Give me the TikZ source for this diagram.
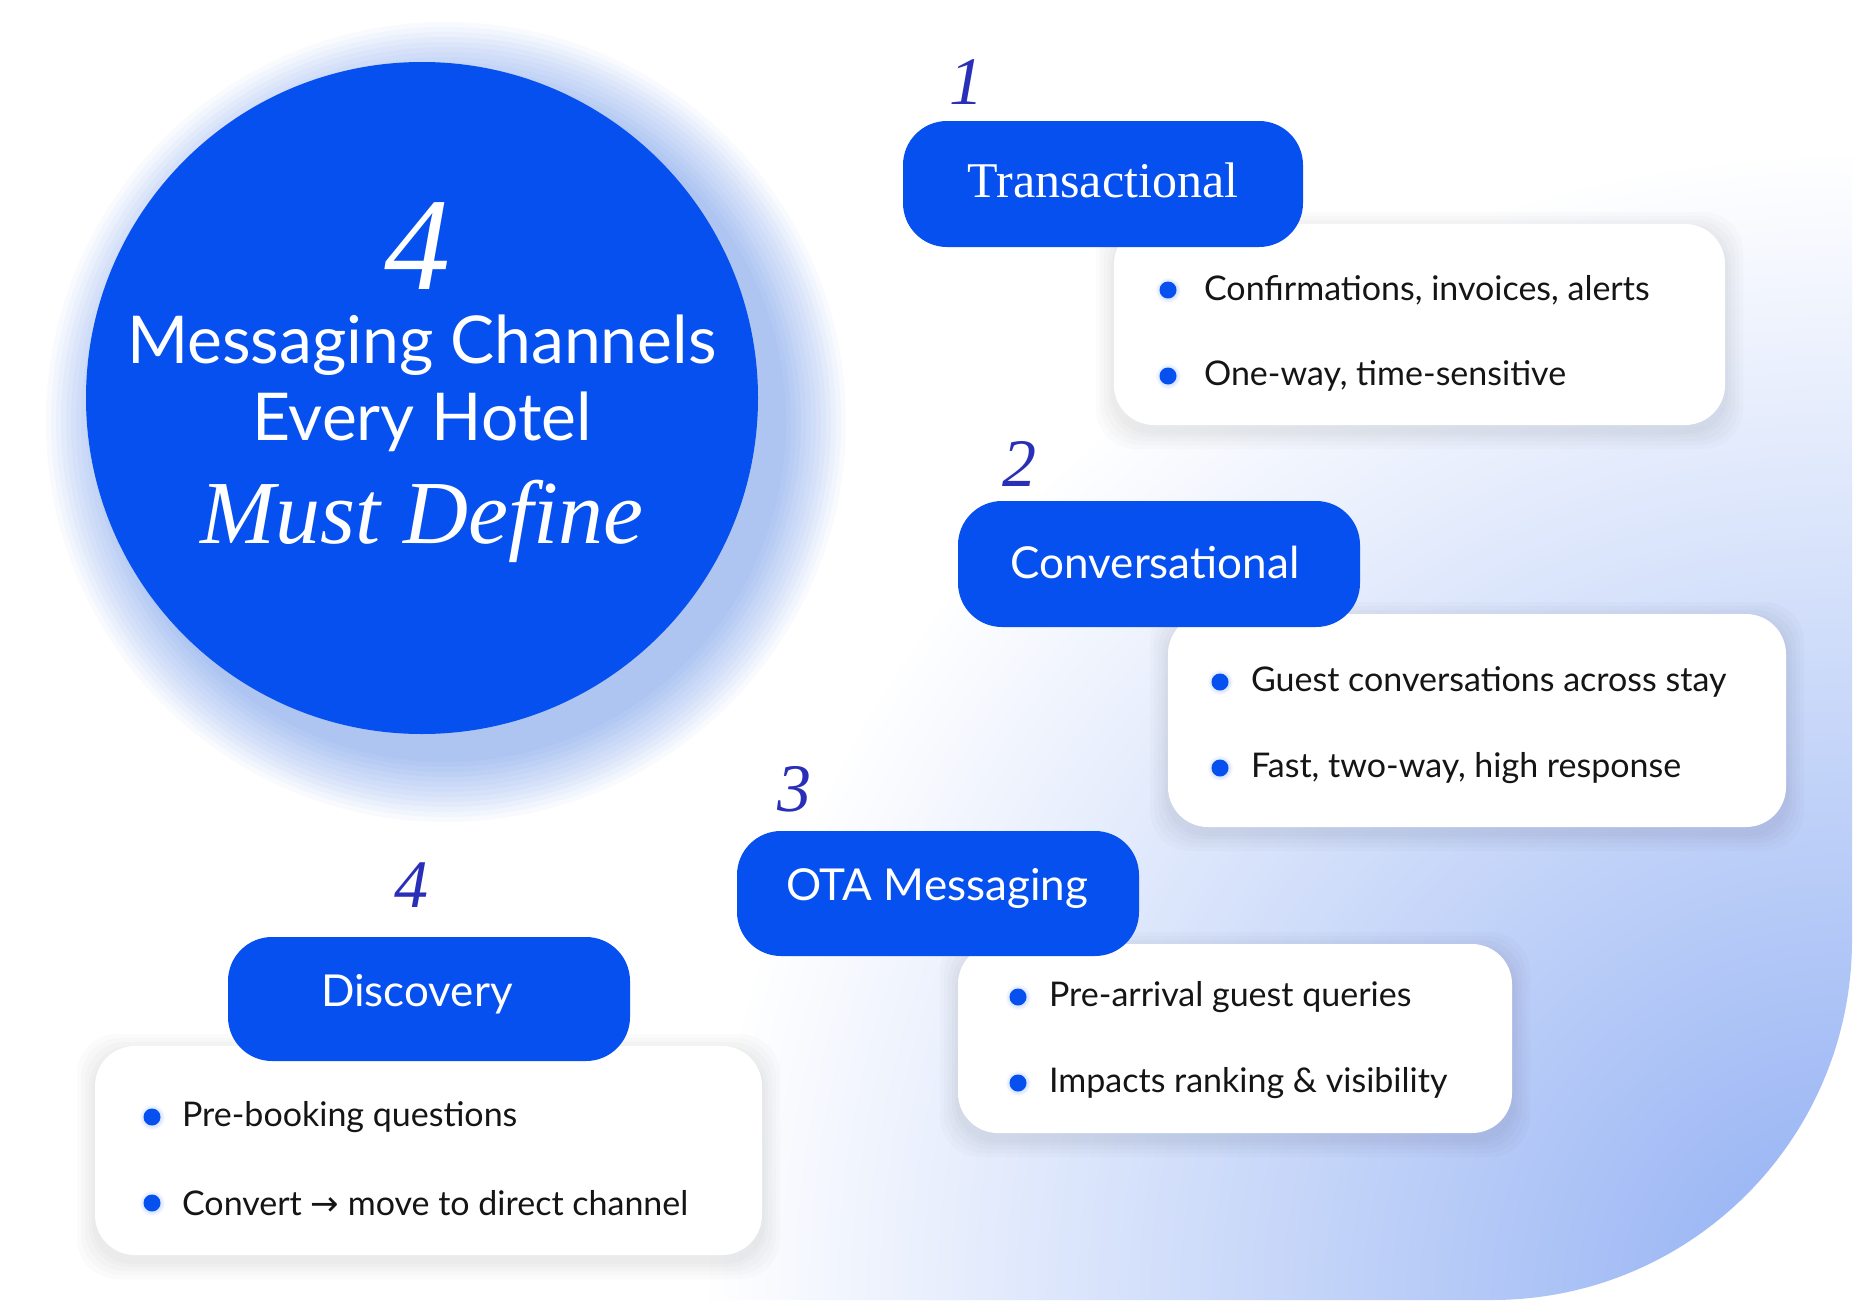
\documentclass[tikz,border=0pt]{standalone}
\usepackage{fontspec}
\setmainfont{Lato}
\newfontfamily\serifit{Liberation Serif}
\newfontfamily\djv{DejaVu Sans}
\definecolor{brand}{HTML}{0650F0}
\definecolor{numc}{HTML}{2A2FB8}
\definecolor{ink}{HTML}{151515}
\definecolor{bgblue}{HTML}{8FAEF3}
\begin{document}
\begin{tikzpicture}[x=0.5pt,y=-0.5pt,
  pill/.style={fill=brand,rounded corners=22pt,text=white},
  card/.style={fill=white,rounded corners=20pt},
  bul/.style={circle,fill=brand,minimum size=8.5pt,inner sep=0pt},
  btxt/.style={anchor=west,text=ink,font=\fontsize{17}{19}\selectfont},
  ptxt/.style={text=white,font=\fontsize{22}{24}\selectfont},
  num/.style={text=numc,font=\serifit\itshape\fontsize{34}{36}\selectfont}]
\def\cardat#1#2#3#4{%
  \foreach \s in {18,14,10,6,3}{\fill[black,opacity=0.016,rounded corners=20pt] (#1-\s,#2-\s+6) rectangle (#3+\s,#4+\s+6);}
  \fill[card] (#1,#2) rectangle (#3,#4);}
\useasboundingbox (0,0) rectangle (1858,1306);
\fill[white] (0,0) rectangle (1858,1306);
\begin{scope}
\clip[rounded corners=180pt] (-300,-300) rectangle (1852,1300);
\shade[inner color=bgblue,outer color=white] (1852,1300) circle (1150);
\end{scope}
% glow
\foreach \r in {400,395,...,338}{\fill[brand,opacity=0.028] (446,422) circle (\r);}
\fill[brand] (422,398) circle (336);
\node[text=white,font=\serifit\itshape\fontsize{66}{66}\selectfont] (n4) at (417,246) {4};
\node[text=white,font=\fontsize{33}{35}\selectfont] (t1) at (422,345) {Messaging Channels};
\node[text=white,font=\fontsize{33}{35}\selectfont] (t2) at (422,422) {Every Hotel};
\node[text=white,font=\serifit\itshape\fontsize{45}{45}\selectfont] (t3) at (422,521) {Must Define};
% cards
\cardat{1114}{224}{1725}{425}
\cardat{1168}{614}{1786}{827}
\cardat{958}{944}{1512}{1133}
\cardat{95}{1046}{762}{1255}
% pills
\fill[pill] (903,121) rectangle (1303,247);
\node[text=white,font=\serifit\fontsize{25}{26}\selectfont] (p1) at (1103,180) {Transactional};
\fill[pill] (958,501) rectangle (1360,627);
\node[ptxt] (p2) at (1155,562) {Conversational};
\fill[pill] (737,831) rectangle (1139,956);
\node[ptxt] (p3) at (937,888) {OTA Messaging};
\fill[pill] (228,937) rectangle (630,1061);
\node[ptxt] (p4) at (417,994) {Discovery};
% numbers
\node[num] (k1) at (966,82) {1};
\node[num] (k2) at (1019,464) {2};
\node[num] (k3) at (794,789) {3};
\node[num] (k4) at (411,885) {4};
% bullets
\foreach \bx/\by/\tx/\lab in {1168/290/1197/{Confirmations, invoices, alerts},1168/376/1197/{One-way, time-sensitive},1220/682/1244/{Guest conversations across stay},1220/768/1244/{Fast, two-way, high response},1018/997/1042/{Pre-arrival guest queries},1018/1083/1042/{Impacts ranking \& visibility},152/1117/175/{Pre-booking questions},152/1203/175/{Convert {\djv→} move to direct channel}}{
  \shade[inner color=brand!45,outer color=white] (\bx,\by) circle (13);
  \node[bul] at (\bx,\by) {};
  \node[btxt] at (\tx,\by) {\lab};
}
\end{tikzpicture}
\end{document}
